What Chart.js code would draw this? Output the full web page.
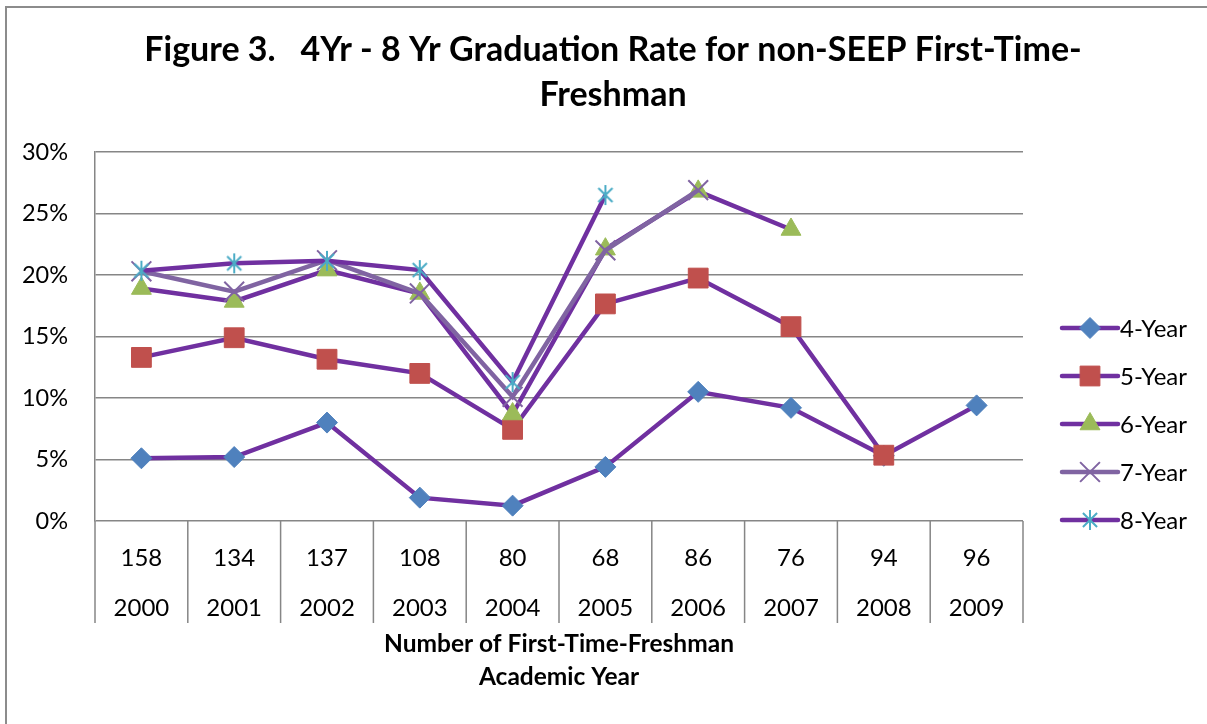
<!DOCTYPE html>
<html>
<head>
<meta charset="utf-8">
<script src="https://cdn.jsdelivr.net/npm/chart.js@4.4.0/dist/chart.umd.min.js"></script>
<style>
  html, body { margin: 0; padding: 0; background: #fff; overflow: hidden; }
  #frame { position: absolute; left: 5px; top: 6px; width: 1300px; height: 800px; border: 2px solid #8c8c8c; box-sizing: border-box; }
  #chart { position: absolute; left: 0; top: 0; }
</style>
</head>
<body>
<div id="frame"></div>
<canvas id="chart" width="1207" height="724"></canvas>
<script>
const FONT = 'Lato, "Open Sans", sans-serif';

// data (percent)
const years = [2000, 2001, 2002, 2003, 2004, 2005, 2006, 2007, 2008, 2009];
const freshmen = [158, 134, 137, 108, 80, 68, 86, 76, 94, 96];
const fourYear = [5.1, 5.2, 8.0, 1.9, 1.25, 4.4, 10.5, 9.2, 5.3, 9.4];
const fiveYear = [13.3, 14.9, 13.15, 12.0, 7.45, 17.65, 19.75, 15.8, 5.35, null];
const sixYear = [18.9, 17.85, 20.4, 18.5, 8.7, 22.1, 26.8, 23.7, null, null];
const sevenYear = [20.3, 18.65, 21.2, 18.5, 10.1, 22.0, 26.9, null, null, null];
const eightYear = [20.35, 20.95, 21.15, 20.4, 11.3, 26.5, null, null, null, null];
const seriesNames = ['4-Year', '5-Year', '6-Year', '7-Year', '8-Year'];
const yTicks = [0, 5, 10, 15, 20, 25, 30];

const LINE = '#7030A0';

// asterisk marker (vertical bar + x), like the excel star marker
function asterisk(color, r) {
  const c = document.createElement('canvas');
  const s = 2 * r + 4;
  c.width = c.height = s;
  const g = c.getContext('2d');
  g.strokeStyle = color;
  g.lineWidth = 2;
  const m = s / 2;
  g.beginPath();
  [90, 45, -45].forEach(a => {
    const dx = Math.cos(a * Math.PI / 180) * r;
    const dy = Math.sin(a * Math.PI / 180) * r;
    g.moveTo(m - dx, m - dy);
    g.lineTo(m + dx, m + dy);
  });
  g.stroke();
  return c;
}

function series(label, data, color, style, radius, fill, stroke, bw, order) {
  return {
    label, data, order,
    borderColor: color,
    borderWidth: 4.5,
    tension: 0,
    spanGaps: false,
    pointStyle: style,
    pointRadius: radius,
    pointBackgroundColor: fill,
    pointBorderColor: stroke,
    pointBorderWidth: bw
  };
}

const datasets = [
  series(seriesNames[0], fourYear, LINE, 'rectRot', 10.5, '#4F81BD', '#4F81BD', 1, 5),
  series(seriesNames[1], fiveYear, LINE, 'rect', 14, '#C0504D', '#C0504D', 1, 4),
  series(seriesNames[2], sixYear, LINE, 'triangle', 11.5, '#9BBB59', '#9BBB59', 1, 3),
  series(seriesNames[3], sevenYear, '#8064A2', 'crossRot', 14, '#8064A2', '#8064A2', 2, 2),
  series(seriesNames[4], eightYear, LINE, asterisk('#4BACC6', 10), 11, '#4BACC6', '#4BACC6', 2, 1)
];

// vertical separators under the category axis
const separators = {
  id: 'separators',
  afterDraw(chart) {
    const xs = chart.scales.x;
    const n = xs.ticks.length;
    const half = (xs.getPixelForValue(1) - xs.getPixelForValue(0)) / 2;
    const ctx = chart.ctx;
    const b = chart.chartArea.bottom;
    ctx.save();
    ctx.strokeStyle = '#868686';
    ctx.lineWidth = 1.5;
    ctx.beginPath();
    for (let i = 0; i <= n; i++) {
      const px = i < n ? xs.getPixelForValue(i) - half : xs.getPixelForValue(n - 1) + half;
      ctx.moveTo(px, b);
      ctx.lineTo(px, b + 102);
    }
    ctx.stroke();
    ctx.restore();
  }
};

// legend on the right: line + marker + name
const sideLegend = {
  id: 'sideLegend',
  afterDraw(chart) {
    const ctx = chart.ctx;
    const x0 = chart.chartArea.right + 39;
    const y0 = 328;
    ctx.save();
    chart.data.datasets.forEach((ds, i) => {
      const y = y0 + i * 48;
      ctx.strokeStyle = ds.borderColor;
      ctx.lineWidth = 4.5;
      ctx.lineCap = 'round';
      ctx.beginPath();
      ctx.moveTo(x0, y);
      ctx.lineTo(x0 + 56, y);
      ctx.stroke();
      const cx = x0 + 28;
      if (ds.pointStyle instanceof HTMLCanvasElement) {
        ctx.drawImage(ds.pointStyle, cx - ds.pointStyle.width / 2, y - ds.pointStyle.height / 2);
      } else {
        ctx.fillStyle = ds.pointBackgroundColor;
        ctx.strokeStyle = ds.pointBorderColor;
        ctx.lineWidth = ds.pointBorderWidth;
        ctx.lineCap = 'butt';
        Chart.helpers.drawPoint(ctx, {
          pointStyle: ds.pointStyle, radius: ds.pointRadius,
          borderWidth: ds.pointBorderWidth, rotation: 0
        }, cx, y);
      }
      ctx.fillStyle = '#000';
      ctx.font = '24px ' + FONT;
      ctx.textAlign = 'left';
      ctx.textBaseline = 'middle';
      ctx.fillText(ds.label, x0 + 58, y + 1);
    });
    ctx.restore();
  }
};

new Chart(document.getElementById('chart'), {
  type: 'line',
  data: {
    labels: years.map((y, i) => [String(freshmen[i]), String(y)]),
    datasets
  },
  options: {
    responsive: false,
    animation: false,
    events: [],
    layout: { padding: { left: 19, top: 0, right: 0, bottom: 0 } },
    plugins: {
      legend: { display: false },
      tooltip: { enabled: false },
      title: {
        display: true,
        text: ['Figure 3.   4Yr - 8 Yr Graduation Rate for non-SEEP First-Time-', 'Freshman'],
        color: '#000',
        font: { family: FONT, size: 34, weight: 'bold', lineHeight: 45 / 34 },
        padding: { top: 27.5, bottom: 34.5 }
      }
    },
    scales: {
      x: {
        type: 'category',
        offset: true,
        grid: { display: false },
        border: { display: false },
        ticks: {
          color: '#000',
          font: { family: FONT, size: 24, lineHeight: 50 / 24 },
          padding: 4,
          maxRotation: 0,
          autoSkip: false
        },
        title: {
          display: true,
          text: ['Number of First-Time-Freshman', 'Academic Year'],
          color: '#000',
          font: { family: FONT, size: 24.5, weight: 'bold', lineHeight: 33 / 24.5 },
          padding: { top: 0, bottom: 30 }
        },
        afterFit(s) { s.height = 203; }
      },
      y: {
        min: yTicks[0],
        max: yTicks[yTicks.length - 1],
        afterBuildTicks(s) { s.ticks = yTicks.map(v => ({ value: v })); },
        grid: { color: '#868686', lineWidth: 1.5, drawTicks: false },
        border: { display: true, color: '#868686', width: 1.5 },
        ticks: {
          color: '#000',
          font: { family: FONT, size: 23.5 },
          padding: 27,
          callback: v => v + '%'
        },
        afterFit(s) { s.width = 76; }
      },
      pad: {
        type: 'linear',
        position: 'right',
        display: true,
        grid: { display: false },
        border: { display: false },
        ticks: { display: false },
        afterFit(s) { s.width = 184; }
      }
    }
  },
  plugins: [separators, sideLegend]
});
</script>
</body>
</html>
